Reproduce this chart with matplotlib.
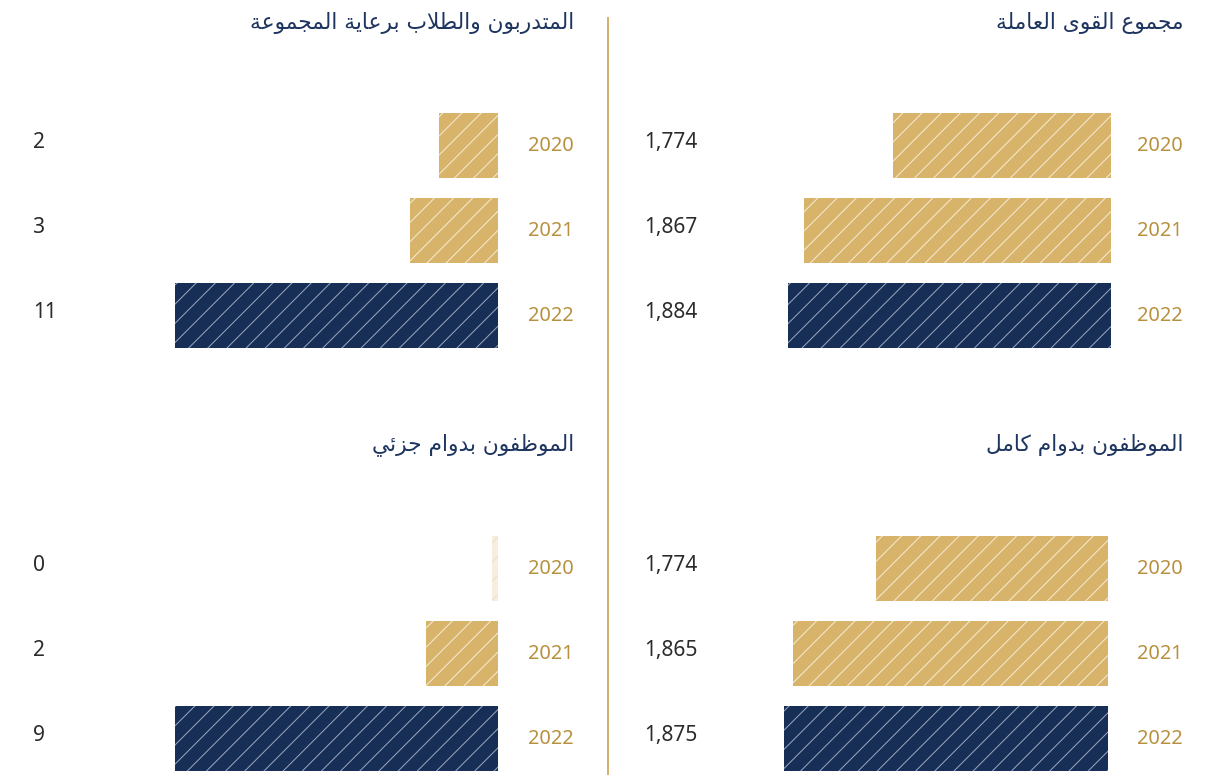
import matplotlib
matplotlib.use('Agg')
import matplotlib.pyplot as plt
import matplotlib.transforms as mtransforms
from matplotlib.lines import Line2D

years=['2020', '2021', '2022']
total_workforce=[1774, 1867, 1884]
trainees=[2, 3, 11]
full_time=[1774, 1865, 1875]
part_time=[0, 2, 9]

title_total='مجموع القوى العاملة'
title_trainees='المتدربون والطلاب برعاية المجموعة'
title_full='الموظفون بدوام كامل'
title_part='الموظفون بدوام جزئي'

W, H=1214, 775
DPI=115  # hatch spacing follows dpi, this gives the ~15px stripes

gold='#d8b46a'
navy='#172e56'
year_color='#b8913f'
title_color='#1e3560'
value_color='#2b2b2b'
zero_color='#f6eedf'

def pt(px):
	return px*72/DPI

plt.rcParams['hatch.linewidth']=pt(1.0)

# matplotlib has no arabic shaping, so map letters to their joined forms by hand
forms={
	'ا':('\uFE8D','\uFE8E',None,None),
	'ب':('\uFE8F','\uFE90','\uFE91','\uFE92'),
	'ة':('\uFE93','\uFE94',None,None),
	'ت':('\uFE95','\uFE96','\uFE97','\uFE98'),
	'ج':('\uFE9D','\uFE9E','\uFE9F','\uFEA0'),
	'د':('\uFEA9','\uFEAA',None,None),
	'ر':('\uFEAD','\uFEAE',None,None),
	'ز':('\uFEAF','\uFEB0',None,None),
	'ط':('\uFEC1','\uFEC2','\uFEC3','\uFEC4'),
	'ظ':('\uFEC5','\uFEC6','\uFEC7','\uFEC8'),
	'ع':('\uFEC9','\uFECA','\uFECB','\uFECC'),
	'ف':('\uFED1','\uFED2','\uFED3','\uFED4'),
	'ق':('\uFED5','\uFED6','\uFED7','\uFED8'),
	'ك':('\uFED9','\uFEDA','\uFEDB','\uFEDC'),
	'ل':('\uFEDD','\uFEDE','\uFEDF','\uFEE0'),
	'م':('\uFEE1','\uFEE2','\uFEE3','\uFEE4'),
	'ن':('\uFEE5','\uFEE6','\uFEE7','\uFEE8'),
	'و':('\uFEED','\uFEEE',None,None),
	'ى':('\uFEEF','\uFEF0',None,None),
	'ي':('\uFEF1','\uFEF2','\uFEF3','\uFEF4'),
	'ئ':('\uFE89','\uFE8A','\uFE8B','\uFE8C'),
}

def dual(c):
	return c in forms and forms[c][2] is not None

def shape(text):
	out=[]
	i=0
	while i<len(text):
		c=text[i]
		if c not in forms:
			out.append(c)
			i+=1
			continue
		prev=text[i-1] if i>0 else ''
		joins_prev=dual(prev)
		if c=='ل' and i+1<len(text) and text[i+1]=='ا':
			out.append('\uFEFC' if joins_prev else '\uFEFB')
			i+=2
			continue
		nxt=text[i+1] if i+1<len(text) else ''
		joins_next=dual(c) and nxt in forms
		iso, fin, ini, med=forms[c]
		if joins_prev and joins_next:
			out.append(med)
		elif joins_prev:
			out.append(fin)
		elif joins_next:
			out.append(ini)
		else:
			out.append(iso)
		i+=1
	return ''.join(reversed(out))

fig=plt.figure(figsize=(W/DPI, H/DPI), dpi=DPI)

def panel(values, title, right, left, start, center0, year_x, value_x, title_y):
	bottom=1-(center0+212.5)/H
	ax=fig.add_axes([left/W, bottom, (right-left)/W, 255/H])
	ax.set_xlim(max(values), start)
	ax.set_ylim(2.5, -0.5)
	ax.axis('off')
	per_px=(max(values)-start)/(right-left)
	for i, v in enumerate(values):
		color=navy if i==len(values)-1 else gold
		hatch_c='#9aa6bc' if color==navy else '#f5ebd6'
		if v==0:
			ax.barh(i, start+6*per_px, height=0.765, color=zero_color, edgecolor='#ece0c6', linewidth=0, hatch='//')
		else:
			ax.barh(i, v, height=0.765, color=color, edgecolor=hatch_c, linewidth=0, hatch='//')
	tr=mtransforms.blended_transform_factory(fig.transFigure, ax.transData)
	for i, y in enumerate(years):
		ax.text(year_x/W, i+0.01, y, transform=tr, ha='right', va='center', color=year_color, fontsize=pt(20), family='Noto Sans')
		ax.text(value_x/W, i-0.04, f'{values[i]:,}', transform=tr, ha='left', va='center', color=value_color, fontsize=pt(21), family='Noto Sans')
	fig.text(year_x/W, 1-title_y/H, shape(title), ha='right', va='center', color=title_color, fontsize=pt(21.7), family='DejaVu Sans')

panel(total_workforce, title_total, 1111, 788, 1545, 145.5, 1183, 644, 23)
panel(trainees, title_trainees, 498, 175, 0, 145.5, 574, 33, 23)
panel(full_time, title_full, 1108, 784, 1520, 568.5, 1183, 644, 445)
panel(part_time, title_part, 498, 175, 0, 568.5, 574, 33, 445)

fig.add_artist(Line2D([608/W, 608/W], [1-18/H, 0], transform=fig.transFigure, color='#d4b16a', linewidth=pt(2)))

fig.savefig('out.png', dpi=DPI)
